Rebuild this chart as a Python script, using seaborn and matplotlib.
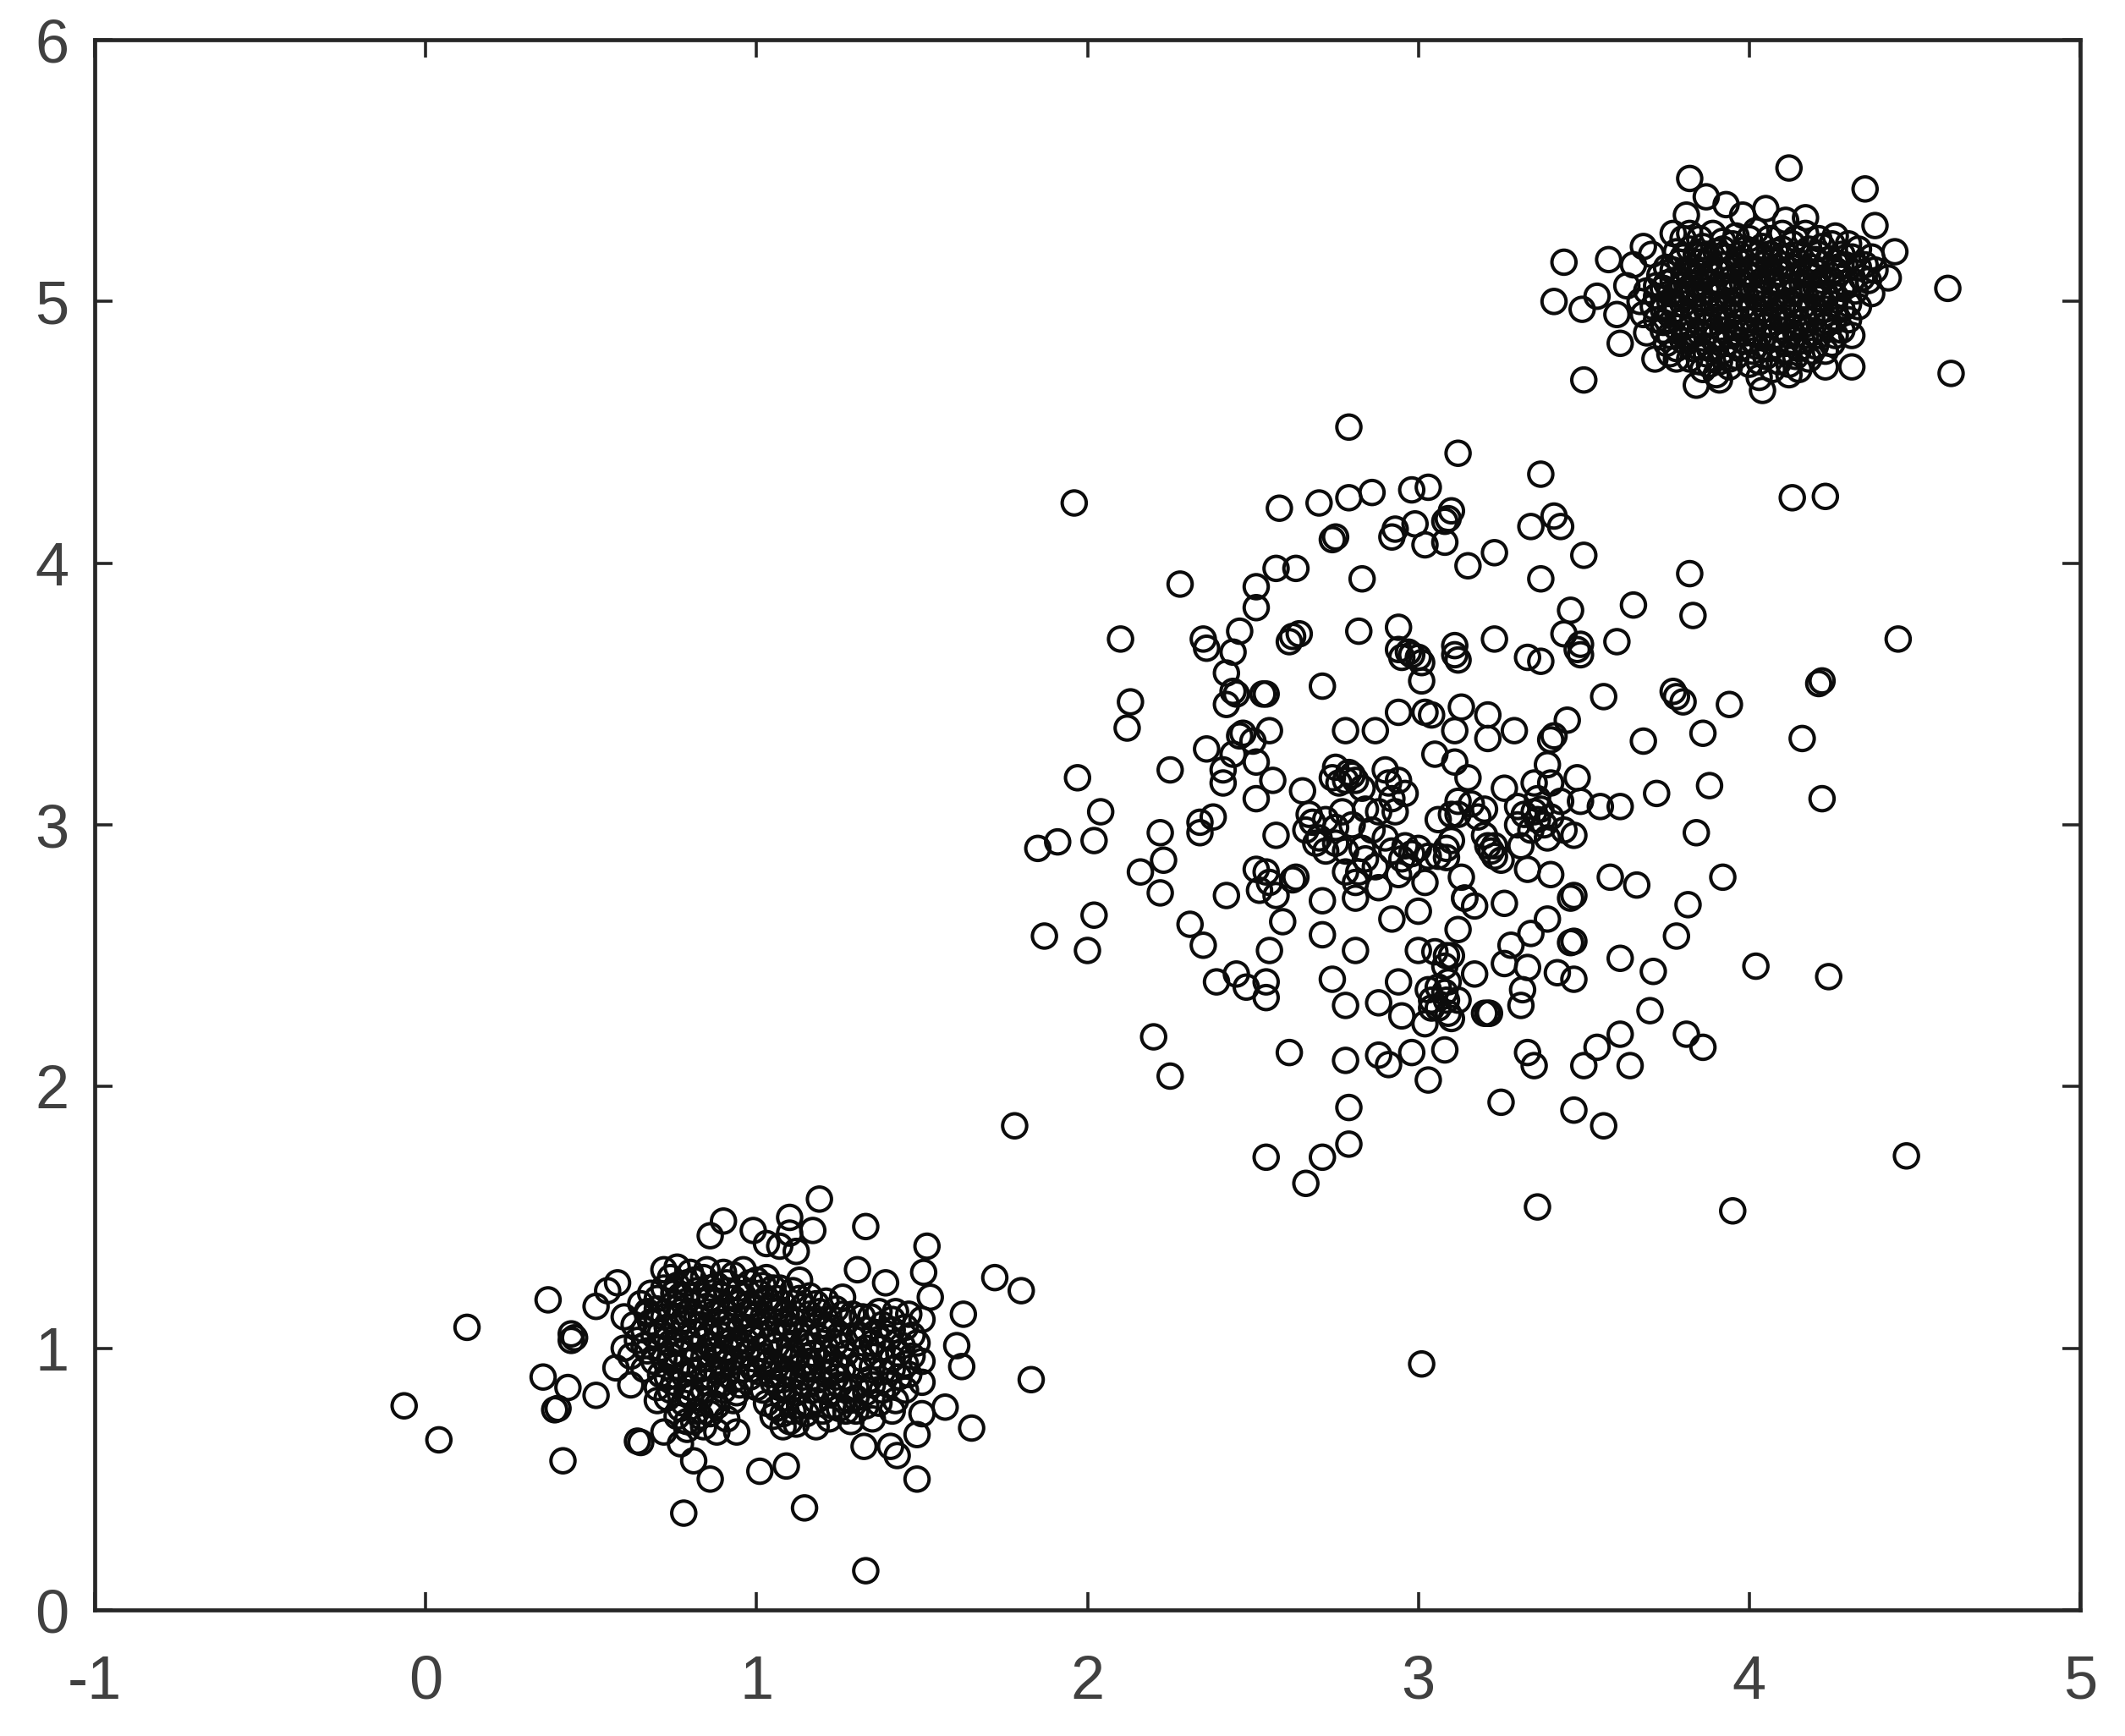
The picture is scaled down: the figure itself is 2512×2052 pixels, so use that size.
import pandas as pd
import matplotlib
matplotlib.use("Agg")
import matplotlib.pyplot as plt
import seaborn as sns

# ============================================================
# Data: (x, y) per cluster
# ============================================================
X_TICKS = [-1, 0, 1, 2, 3, 4, 5]
X_LABELS = ["-1", "0", "1", "2", "3", "4", "5"]
Y_TICKS = [0, 1, 2, 3, 4, 5, 6]
Y_LABELS = ["0", "1", "2", "3", "4", "5", "6"]

middle_upper_left = [
    (2.79, 4.52), (1.96, 4.23), (2.58, 4.21), (2.70, 4.23), (2.79, 4.25), (2.86, 4.27), (2.98, 4.28), (3.03, 4.29),
    (2.74, 4.09), (2.75, 4.10), (2.93, 4.13), (2.92, 4.10), (2.99, 4.15), (3.02, 4.07), (2.57, 3.98), (2.63, 3.98),
    (2.83, 3.94), (2.28, 3.92), (2.51, 3.91), (2.51, 3.83), (2.46, 3.74), (2.82, 3.74), (2.94, 3.755), (2.64, 3.73),
    (2.62, 3.72), (2.61, 3.70), (2.10, 3.71), (2.35, 3.71), (2.36, 3.675), (2.44, 3.66), (2.42, 3.58), (2.94, 3.67),
    (2.97, 3.66), (2.98, 3.65), (3.00, 3.64), (2.95, 3.64), (3.01, 3.62), (3.01, 3.55), (2.71, 3.53), (2.44, 3.51),
    (2.45, 3.50), (2.53, 3.50), (2.54, 3.50), (2.42, 3.46), (2.13, 3.47), (2.12, 3.37), (2.94, 3.43), (3.02, 3.43),
    (3.04, 3.42), (2.78, 3.36), (2.87, 3.36), (2.55, 3.36), (2.47, 3.35), (2.50, 3.32), (2.46, 3.34), (2.36, 3.29),
    (2.44, 3.27), (2.25, 3.21), (1.97, 3.18), (2.41, 3.21), (2.41, 3.16), (2.51, 3.24), (2.56, 3.17), (2.65, 3.13),
    (2.51, 3.10), (2.75, 3.22), (2.79, 3.20), (2.81, 3.17), (2.78, 3.17), (2.90, 3.21), (2.94, 3.17), (2.91, 3.16),
    (2.77, 3.05), (2.84, 3.06), (2.93, 3.05), (2.88, 3.05), (3.05, 3.27), (2.04, 3.05), (2.38, 3.03), (2.34, 3.01),
    (2.67, 3.04), (2.68, 3.01),
]
middle_upper_right = [
    (3.12, 4.42), (3.37, 4.34), (4.13, 4.25), (4.23, 4.255), (3.10, 4.20), (3.09, 4.17), (3.08, 4.16), (3.08, 4.08),
    (3.34, 4.14), (3.41, 4.18), (3.43, 4.14), (3.50, 4.03), (3.23, 4.04), (3.15, 3.99), (3.37, 3.94), (3.82, 3.96),
    (3.65, 3.84), (3.46, 3.82), (3.83, 3.80), (3.44, 3.73), (3.49, 3.69), (3.49, 3.65), (3.48, 3.67), (3.60, 3.70),
    (3.23, 3.71), (3.11, 3.685), (3.12, 3.63), (3.11, 3.65), (3.33, 3.64), (3.37, 3.625), (3.56, 3.49), (3.77, 3.51),
    (3.80, 3.47), (3.78, 3.49), (3.94, 3.46), (4.22, 3.55), (4.21, 3.54), (3.13, 3.45), (3.21, 3.42), (3.11, 3.36),
    (3.21, 3.33), (3.29, 3.36), (3.45, 3.40), (3.40, 3.325), (3.41, 3.34), (3.68, 3.32), (3.86, 3.35), (4.16, 3.33),
    (3.11, 3.24), (3.39, 3.23), (3.15, 3.18), (3.26, 3.14), (3.35, 3.16), (3.48, 3.18), (3.72, 3.12), (3.88, 3.15),
    (4.22, 3.10), (3.12, 3.09), (3.10, 3.04), (3.18, 3.03), (3.12, 3.04), (3.35, 3.05), (3.32, 3.04), (3.37, 3.06),
    (3.36, 3.02), (3.43, 3.09), (3.49, 3.09), (3.55, 3.07), (3.61, 3.07), (3.84, 2.97), (4.45, 3.71),
]
middle_lower_left = [
    (1.85, 2.91), (1.91, 2.935), (2.02, 2.94), (2.22, 2.97), (2.34, 2.97), (2.57, 2.96), (2.23, 2.865), (2.16, 2.82),
    (2.22, 2.74), (2.51, 2.83), (2.54, 2.82), (2.55, 2.78), (2.52, 2.75), (2.57, 2.73), (2.62, 2.79), (2.63, 2.80),
    (2.42, 2.73), (2.71, 2.71), (2.81, 2.72), (2.69, 2.93), (2.72, 2.90), (2.75, 2.93), (2.83, 2.91), (2.78, 2.82),
    (2.82, 2.82), (2.81, 2.78), (2.87, 2.84), (2.96, 2.92), (2.95, 2.87), (2.97, 2.84), (2.94, 2.81), (3.03, 2.88),
    (3.02, 2.78), (2.88, 2.76), (2.92, 2.64), (3.00, 2.67), (2.02, 2.655), (1.87, 2.575), (2.00, 2.52), (2.31, 2.62),
    (2.35, 2.54), (2.59, 2.63), (2.71, 2.58), (2.55, 2.52), (2.81, 2.52), (3.00, 2.52), (3.05, 2.515), (2.39, 2.40),
    (2.45, 2.43), (2.48, 2.38), (2.54, 2.40), (2.54, 2.34), (2.74, 2.41), (2.78, 2.31), (2.94, 2.40), (2.88, 2.32),
    (2.95, 2.27), (3.02, 2.24), (3.03, 2.37), (3.04, 2.33), (3.04, 2.30), (2.20, 2.19), (2.25, 2.04), (1.78, 1.85),
    (2.61, 2.13), (2.78, 2.10), (2.88, 2.12), (2.91, 2.084), (2.98, 2.13), (3.03, 2.025), (2.79, 1.92), (2.79, 1.78),
    (2.71, 1.73), (2.54, 1.73), (2.66, 1.63),
]
middle_lower_right = [
    (3.92, 2.80), (3.58, 2.80), (3.66, 2.77), (3.815, 2.695), (3.78, 2.575), (4.02, 2.46), (4.24, 2.42), (3.61, 2.49),
    (3.71, 2.44), (3.70, 2.29), (3.81, 2.20), (3.86, 2.15), (3.61, 2.20), (3.54, 2.15), (3.50, 2.08), (3.64, 2.08),
    (3.33, 2.13), (3.35, 2.08), (3.25, 1.94), (3.47, 1.91), (3.56, 1.85), (3.36, 1.54), (3.95, 1.525), (3.08, 2.14),
    (3.33, 2.83), (3.40, 2.81), (3.47, 2.73), (3.46, 2.72), (3.26, 2.70), (3.14, 2.72), (3.17, 2.69), (3.12, 2.60),
    (3.23, 2.92), (3.23, 2.88), (3.25, 2.865), (3.21, 2.92), (3.31, 2.92), (3.39, 2.95), (3.47, 2.96), (3.085, 2.91),
    (3.085, 2.875), (3.13, 2.80), (3.39, 2.64), (3.34, 2.585), (3.28, 2.54), (3.46, 2.55), (3.47, 2.555), (3.26, 2.47),
    (3.33, 2.455), (3.42, 2.435), (3.47, 2.41), (3.17, 2.43), (3.315, 2.37), (3.31, 2.31), (3.215, 2.28), (3.21, 2.28),
    (3.085, 2.50), (3.09, 2.40), (3.085, 2.33), (3.10, 2.26), (3.08, 2.36), (3.09, 2.28), (4.475, 1.735), (3.01, 0.94),
]
# the darker knots inside the middle cluster
middle_knots = [
    (2.74, 3.18), (2.76, 3.16), (2.80, 3.19), (2.83, 3.14), (2.92, 3.10), (2.96, 3.12), (2.72, 3.02), (2.75, 2.99),
    (2.80, 3.00), (2.86, 2.98), (2.90, 2.95), (2.92, 2.90), (2.98, 2.89), (3.00, 2.91), (3.06, 2.88), (3.10, 2.94),
    (2.84, 2.87), (2.78, 2.90), (2.70, 2.95), (2.66, 2.98), (3.16, 3.08), (3.20, 3.06), (3.06, 3.02), (3.30, 3.00),
    (3.34, 2.98), (3.38, 3.00), (3.40, 3.03), (3.30, 3.07), (3.10, 2.50), (3.06, 2.38), (3.12, 2.33), (3.14, 2.72),
    (3.20, 2.96), (3.22, 2.90), (3.44, 2.98), (3.40, 3.16), (3.36, 3.10), (3.08, 2.46), (3.06, 2.30), (3.20, 2.28),
]

top_rim = [
    (3.82, 5.47), (4.12, 5.51), (4.35, 5.43), (3.87, 5.40), (3.93, 5.37), (3.98, 5.33), (4.05, 5.355), (3.81, 5.33),
    (4.11, 5.31), (4.17, 5.32), (4.26, 5.25), (4.38, 5.29), (4.44, 5.19), (3.44, 5.15), (3.575, 5.16), (3.68, 5.21),
    (3.65, 5.14), (3.705, 5.18), (3.78, 5.19), (3.77, 5.26), (3.41, 5.00), (3.495, 4.97), (3.54, 5.02), (3.60, 4.95),
    (3.63, 5.06), (3.61, 4.84), (3.69, 4.88), (3.68, 4.95), (3.715, 4.78), (3.78, 4.78), (3.84, 4.68), (4.04, 4.66),
    (4.03, 4.71), (3.91, 4.70), (4.12, 4.72), (4.23, 4.75), (4.31, 4.75), (4.31, 4.87), (4.33, 4.98), (4.37, 5.03),
    (4.42, 5.09), (4.60, 5.05), (4.61, 4.725), (3.50, 4.70),
]
top_core = [
    (3.80, 5.24), (3.86, 5.21), (3.90, 5.19), (3.95, 5.22), (3.99, 5.20), (4.04, 5.21), (4.08, 5.19), (4.13, 5.22),
    (4.18, 5.20), (4.22, 5.21), (4.28, 5.18), (4.33, 5.20), (4.37, 5.17), (3.79, 5.15), (3.83, 5.13), (3.88, 5.16),
    (3.92, 5.14), (3.97, 5.15), (4.01, 5.13), (4.06, 5.16), (4.10, 5.14), (4.15, 5.15), (4.19, 5.13), (4.24, 5.16),
    (4.29, 5.14), (4.33, 5.13), (4.38, 5.12), (3.73, 5.10), (3.77, 5.08), (3.82, 5.10), (3.86, 5.09), (3.91, 5.11),
    (3.95, 5.09), (4.00, 5.10), (4.04, 5.08), (4.09, 5.11), (4.13, 5.09), (4.18, 5.10), (4.22, 5.08), (4.27, 5.11),
    (4.31, 5.08), (4.36, 5.08), (3.69, 5.04), (3.74, 5.05), (3.78, 5.03), (3.83, 5.05), (3.87, 5.04), (3.92, 5.06),
    (3.96, 5.04), (4.01, 5.05), (4.05, 5.03), (4.10, 5.06), (4.14, 5.04), (4.19, 5.05), (4.23, 5.03), (4.28, 5.05),
    (4.32, 5.04), (3.67, 5.00), (3.71, 4.98), (3.76, 5.00), (3.80, 4.99), (3.85, 5.01), (3.89, 4.99), (3.94, 5.00),
    (3.98, 4.98), (4.03, 5.01), (4.07, 4.99), (4.12, 5.00), (4.16, 4.98), (4.21, 5.01), (4.25, 4.99), (4.30, 4.99),
    (3.72, 4.93), (3.76, 4.95), (3.81, 4.94), (3.85, 4.96), (3.90, 4.94), (3.94, 4.95), (3.99, 4.93), (4.03, 4.96),
    (4.08, 4.94), (4.12, 4.95), (4.17, 4.93), (4.21, 4.96), (4.26, 4.94), (4.30, 4.93), (3.74, 4.89), (3.78, 4.90),
    (3.83, 4.88), (3.87, 4.91), (3.92, 4.89), (3.96, 4.90), (4.01, 4.88), (4.05, 4.91), (4.10, 4.89), (4.14, 4.90),
    (4.19, 4.88), (4.23, 4.91), (4.28, 4.89), (3.75, 4.84), (3.80, 4.85), (3.84, 4.83), (3.89, 4.86), (3.93, 4.84),
    (3.98, 4.85), (4.02, 4.83), (4.07, 4.86), (4.11, 4.84), (4.16, 4.85), (4.20, 4.83), (4.25, 4.84), (3.76, 4.80),
    (3.82, 4.78), (3.87, 4.80), (3.91, 4.77), (3.96, 4.79), (4.00, 4.76), (4.05, 4.79), (4.09, 4.77), (4.14, 4.79),
    (4.18, 4.78), (3.86, 4.74), (3.90, 4.72), (3.94, 4.75), (4.07, 4.74), (4.15, 4.74), (3.75, 5.13), (3.72, 5.06),
]
top_core_extra = [
    (3.84, 5.18), (3.93, 5.17), (4.03, 5.18), (4.12, 5.17), (4.21, 5.18), (4.31, 5.17), (3.81, 5.12), (3.85, 5.11),
    (3.90, 5.12), (3.94, 5.12), (3.99, 5.11), (4.03, 5.12), (4.08, 5.13), (4.12, 5.12), (4.17, 5.12), (4.21, 5.11),
    (4.26, 5.12), (3.75, 5.07), (3.80, 5.06), (3.84, 5.07), (3.89, 5.07), (3.94, 5.08), (3.98, 5.07), (4.02, 5.06),
    (4.07, 5.07), (4.11, 5.08), (4.16, 5.07), (4.20, 5.06), (4.25, 5.08), (4.29, 5.07), (3.72, 5.02), (3.76, 5.03),
    (3.81, 5.02), (3.85, 5.03), (3.90, 5.02), (3.94, 5.03), (3.99, 5.02), (4.03, 5.03), (4.08, 5.02), (4.12, 5.03),
    (4.17, 5.02), (4.21, 5.03), (4.26, 5.02), (3.74, 4.97), (3.78, 4.97), (3.83, 4.98), (3.87, 4.97), (3.92, 4.98),
    (3.96, 4.97), (4.01, 4.98), (4.05, 4.97), (4.10, 4.98), (4.14, 4.97), (4.19, 4.98), (4.23, 4.97), (4.28, 4.97),
    (3.74, 4.92), (3.79, 4.92), (3.83, 4.93), (3.88, 4.92), (3.92, 4.93), (3.97, 4.92), (4.01, 4.93), (4.06, 4.92),
    (4.10, 4.93), (4.15, 4.92), (4.19, 4.93), (4.24, 4.92), (3.76, 4.87), (3.81, 4.87), (3.85, 4.88), (3.90, 4.87),
    (3.94, 4.87), (3.99, 4.88), (4.03, 4.87), (4.08, 4.87), (4.12, 4.87), (4.17, 4.87), (4.21, 4.87), (4.26, 4.87),
    (3.78, 4.82), (3.83, 4.82), (3.88, 4.82), (3.92, 4.81), (3.97, 4.82), (4.01, 4.81), (4.06, 4.82), (4.10, 4.81),
    (4.15, 4.82), (4.19, 4.81), (4.23, 4.81), (3.85, 4.77), (3.94, 4.78), (4.03, 4.77), (4.12, 4.76), (3.88, 4.76),
]
top_core_upper = [
    (3.82, 5.26), (3.85, 5.24), (3.89, 5.26), (3.92, 5.23), (3.96, 5.25), (4.00, 5.24), (4.02, 5.27), (4.06, 5.24),
    (4.10, 5.26), (4.14, 5.24), (4.17, 5.26), (4.21, 5.24), (4.25, 5.22), (4.30, 5.22), (3.82, 5.20), (3.87, 5.18),
    (3.92, 5.20), (3.97, 5.18), (4.01, 5.19), (4.06, 5.18), (4.10, 5.20), (4.15, 5.18), (4.20, 5.16), (4.26, 5.15),
    (4.35, 5.14), (4.34, 5.09), (3.77, 5.12), (3.80, 5.17), (3.85, 5.15), (3.95, 5.13), (4.04, 5.14), (4.13, 5.13),
]

bottom_rim = [
    (1.19, 1.57), (0.90, 1.486), (0.86, 1.43), (1.10, 1.50), (0.99, 1.45), (1.17, 1.45), (1.10, 1.44), (1.03, 1.40),
    (1.12, 1.37), (1.07, 1.39), (1.33, 1.465), (1.515, 1.39), (1.505, 1.29), (1.305, 1.30), (1.72, 1.27), (1.80, 1.22),
    (1.625, 1.13), (1.605, 1.01), (1.62, 0.93), (1.83, 0.88), (1.57, 0.775), (1.65, 0.695), (1.50, 0.75), (1.485, 0.67),
    (1.485, 0.50), (1.325, 0.625), (1.405, 0.625), (1.425, 0.59), (1.33, 0.15), (1.145, 0.39), (0.78, 0.37), (0.86, 0.50),
    (0.81, 0.57), (0.77, 0.635), (0.64, 0.645), (0.65, 0.64), (1.01, 0.53), (1.09, 0.55), (0.415, 0.57), (0.04, 0.65),
    (-0.065, 0.78), (0.125, 1.08), (0.37, 1.185), (0.58, 1.25), (0.515, 1.16), (0.55, 1.22), (0.44, 1.055), (0.44, 1.03),
    (0.45, 1.04), (0.355, 0.89), (0.43, 0.85), (0.515, 0.82), (0.39, 0.765), (0.40, 0.77), (0.575, 0.925), (0.62, 0.86),
    (0.60, 1.00), (0.60, 1.12), (0.67, 1.14), (0.72, 1.30), (0.76, 1.31), (0.70, 0.80), (0.94, 0.68), (0.72, 0.68),
    (1.18, 0.70), (1.08, 0.70), (1.285, 0.72), (1.39, 1.25), (1.26, 1.195), (1.525, 1.195), (1.50, 1.11), (1.345, 1.12),
    (1.42, 1.14), (1.485, 1.02), (1.50, 0.95), (1.50, 0.87), (1.42, 0.80), (1.34, 0.88),
]
bottom_core = [
    (0.74, 1.27), (0.79, 1.25), (0.84, 1.27), (0.88, 1.24), (0.93, 1.28), (0.98, 1.25), (1.03, 1.27), (1.07, 1.23),
    (0.68, 1.21), (0.72, 1.23), (0.77, 1.20), (0.82, 1.22), (0.86, 1.19), (0.91, 1.22), (0.96, 1.20), (1.01, 1.21),
    (1.06, 1.19), (1.11, 1.22), (1.16, 1.20), (1.21, 1.18), (0.65, 1.17), (0.70, 1.15), (0.75, 1.17), (0.80, 1.14),
    (0.85, 1.16), (0.90, 1.14), (0.94, 1.17), (0.99, 1.15), (1.04, 1.16), (1.09, 1.13), (1.14, 1.16), (1.19, 1.14),
    (1.24, 1.15), (1.29, 1.13), (0.63, 1.09), (0.68, 1.10), (0.73, 1.08), (0.78, 1.11), (0.83, 1.09), (0.88, 1.10),
    (0.92, 1.08), (0.97, 1.11), (1.02, 1.09), (1.07, 1.10), (1.12, 1.07), (1.17, 1.10), (1.22, 1.08), (1.27, 1.10),
    (1.33, 1.07), (1.38, 1.09), (1.45, 1.08), (0.64, 1.03), (0.69, 1.05), (0.74, 1.02), (0.79, 1.04), (0.84, 1.03),
    (0.89, 1.05), (0.94, 1.02), (0.99, 1.04), (1.04, 1.03), (1.09, 1.05), (1.14, 1.02), (1.19, 1.04), (1.24, 1.02),
    (1.29, 1.04), (1.35, 1.02), (1.40, 1.04), (1.44, 1.01), (0.62, 0.97), (0.67, 0.99), (0.72, 0.96), (0.77, 0.98),
    (0.82, 0.97), (0.87, 0.99), (0.92, 0.96), (0.97, 0.98), (1.02, 0.97), (1.07, 0.99), (1.12, 0.96), (1.17, 0.98),
    (1.22, 0.96), (1.27, 0.98), (1.36, 0.97), (1.41, 0.96), (1.45, 0.94), (0.66, 0.92), (0.71, 0.90), (0.76, 0.93),
    (0.81, 0.91), (0.86, 0.93), (0.91, 0.90), (0.96, 0.92), (1.01, 0.91), (1.06, 0.93), (1.11, 0.90), (1.16, 0.92),
    (1.21, 0.90), (1.26, 0.92), (1.31, 0.93), (1.38, 0.91), (1.43, 0.89), (0.70, 0.85), (0.75, 0.87), (0.80, 0.85),
    (0.85, 0.87), (0.90, 0.84), (0.95, 0.86), (1.00, 0.85), (1.05, 0.87), (1.10, 0.84), (1.15, 0.86), (1.20, 0.84),
    (1.25, 0.86), (1.30, 0.85), (1.38, 0.84), (0.73, 0.81), (0.78, 0.79), (0.83, 0.81), (0.88, 0.78), (0.93, 0.80),
    (1.03, 0.79), (1.08, 0.81), (1.13, 0.78), (1.18, 0.80), (1.23, 0.78), (1.28, 0.80), (1.33, 0.78), (0.76, 0.74),
    (0.81, 0.72), (0.86, 0.75), (0.91, 0.73), (1.05, 0.74), (1.10, 0.72), (1.15, 0.75), (1.22, 0.73), (1.27, 0.76),
    (0.79, 0.69), (0.84, 0.70), (0.88, 0.68), (1.12, 0.71), (0.80, 1.29), (0.85, 1.30), (0.90, 1.29), (0.96, 1.30),
    (1.02, 1.24), (1.13, 1.26), (1.00, 1.13), (0.76, 1.12), (0.86, 1.06), (0.98, 1.07), (1.10, 1.01), (0.74, 0.95),
    (0.90, 0.94), (1.03, 0.94), (1.16, 0.95), (0.84, 0.89), (0.98, 0.89), (1.08, 0.88), (1.24, 0.89), (0.92, 1.03),
]
bottom_core_extra = [
    (0.76, 1.24), (0.81, 1.26), (0.86, 1.23), (0.91, 1.25), (0.95, 1.23), (1.00, 1.26), (1.05, 1.23), (0.70, 1.19),
    (0.75, 1.21), (0.79, 1.18), (0.84, 1.20), (0.88, 1.18), (0.93, 1.19), (0.98, 1.17), (1.03, 1.19), (1.08, 1.17),
    (1.13, 1.19), (1.18, 1.17), (0.67, 1.13), (0.72, 1.12), (0.77, 1.14), (0.82, 1.12), (0.87, 1.13), (0.92, 1.11),
    (0.97, 1.13), (1.02, 1.12), (1.06, 1.14), (1.11, 1.11), (1.16, 1.13), (1.21, 1.11), (1.26, 1.13), (0.66, 1.07),
    (0.71, 1.06), (0.76, 1.08), (0.81, 1.06), (0.85, 1.08), (0.90, 1.07), (0.95, 1.08), (1.00, 1.06), (1.05, 1.07),
    (1.10, 1.08), (1.15, 1.06), (1.20, 1.07), (1.25, 1.05), (0.66, 1.01), (0.71, 1.00), (0.76, 1.02), (0.81, 1.00),
    (0.86, 1.01), (0.91, 1.00), (0.96, 1.01), (1.01, 1.00), (1.06, 1.01), (1.11, 0.98), (1.16, 1.01), (1.21, 1.00),
    (1.26, 1.01), (0.69, 0.95), (0.74, 0.97), (0.79, 0.95), (0.84, 0.96), (0.89, 0.97), (0.94, 0.95), (0.99, 0.96),
    (1.04, 0.95), (1.09, 0.96), (1.14, 0.94), (1.19, 0.95), (1.24, 0.94), (0.73, 0.89), (0.78, 0.90), (0.83, 0.92),
    (0.88, 0.91), (0.93, 0.88), (0.99, 0.92), (1.04, 0.90), (1.09, 0.91), (1.14, 0.89), (1.19, 0.88), (1.23, 0.91),
    (0.74, 0.84), (0.79, 0.83), (0.84, 0.84), (0.89, 0.86), (0.94, 0.83), (1.02, 0.84), (1.07, 0.85), (1.12, 0.83),
    (1.17, 0.84), (1.22, 0.83), (1.27, 0.84), (0.77, 0.77), (0.82, 0.76), (0.87, 0.79), (0.80, 0.82), (1.06, 0.77),
    (1.11, 0.76), (1.16, 0.78), (1.20, 0.76), (1.25, 0.77), (0.83, 0.74), (0.79, 0.72), (1.08, 0.75), (1.30, 0.81),
]
bottom_core_right = [
    (1.32, 1.12), (1.37, 1.14), (1.41, 1.11), (1.46, 1.13), (1.31, 1.05), (1.36, 1.06), (1.41, 1.07), (1.47, 1.05),
    (1.33, 1.00), (1.38, 1.00), (1.43, 0.98), (1.47, 0.97), (1.32, 0.96), (1.35, 0.93), (1.41, 0.92), (1.46, 0.90),
    (1.35, 0.86), (1.40, 0.86), (1.45, 0.84), (1.33, 0.83), (1.37, 0.79), (1.30, 0.76), (1.41, 0.76), (1.35, 0.73),
]

points = (
    middle_upper_left + middle_upper_right + middle_lower_left + middle_lower_right + middle_knots
    + top_rim + top_core + top_core_extra + top_core_upper
    + bottom_rim + bottom_core + bottom_core_extra + bottom_core_right
)
df = pd.DataFrame(points, columns=["x", "y"])

# ============================================================
# Plot
# ============================================================
sns.set_theme(style="white")
plt.rcParams["font.family"] = ["Liberation Sans", "DejaVu Sans"]

fig = plt.figure(figsize=(25.12, 20.52), dpi=100)
ax = fig.add_axes([112 / 2512, 1 - 1903 / 2052, 2347 / 2512, 1856 / 2052])

sns.scatterplot(
    data=df, x="x", y="y", ax=ax,
    marker="o", s=420, facecolors="none", edgecolor="#0c0c0c", linewidth=2.9,
    clip_on=True, legend=False,
)

ax.set_xlim(-1, 5)
ax.set_ylim(0, 6)
ax.set_xlabel("")
ax.set_ylabel("")
ax.set_xticks(X_TICKS, X_LABELS)
ax.set_yticks(Y_TICKS, Y_LABELS)
ax.tick_params(
    axis="both", direction="in", length=15, width=2.6, color="#262626",
    labelcolor="#404040", labelsize=52, top=True, right=True, bottom=True, left=True,
)
ax.tick_params(axis="x", pad=38)
ax.tick_params(axis="y", pad=22)
for spine in ax.spines.values():
    spine.set_color("#262626")
    spine.set_linewidth(3.4)

fig.savefig("out.png", dpi=100, facecolor="white")
